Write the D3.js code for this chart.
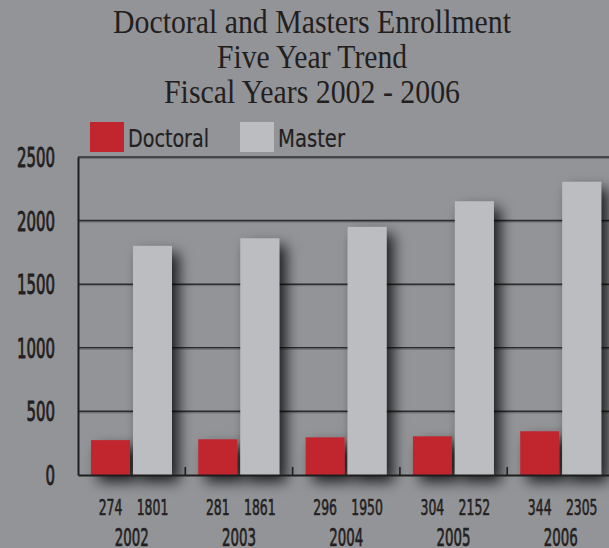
<!DOCTYPE html>
<html><head><meta charset="utf-8">
<script src="https://cdn.jsdelivr.net/npm/d3@7"></script>
<style>html,body{margin:0;padding:0;background:#939498;overflow:hidden}</style>
</head><body>
<svg id="c" width="609" height="548"></svg>
<script>
const years = ["2002","2003","2004","2005","2006"];
const seriesNames = ["Doctoral","Master"];
const doctoral = [274,281,296,304,344];
const master = [1801,1861,1950,2152,2305];
const yTicks = [0,500,1000,1500,2000,2500];
const titleLines = ["Doctoral and Masters Enrollment","Five Year Trend","Fiscal Years 2002 - 2006"];

const colors = {Doctoral:"#c1262e", Master:"#bcbdc1"};
const ink = "#231f20";
const condensed = "'Liberation Sans Narrow','DejaVu Sans Condensed','Arial Narrow',sans-serif";

const svg = d3.select("#c");
svg.append("rect").attr("width",609).attr("height",548).attr("fill","#939498");

const defs = svg.append("defs");
const f = defs.append("filter").attr("id","sh").attr("x","-50%").attr("y","-20%").attr("width","200%").attr("height","150%");
f.append("feDropShadow").attr("dx",7).attr("dy",7).attr("stdDeviation",7).attr("flood-color","#000").attr("flood-opacity",0.8);

// title
const titleX = [[113,511],[217,407],[164,460]];
const titleY = [33,68,103];
titleLines.forEach((t,i)=>{
  svg.append("text").attr("x",titleX[i][0]).attr("y",titleY[i])
    .attr("textLength",titleX[i][1]-titleX[i][0]).attr("lengthAdjust","spacingAndGlyphs")
    .attr("font-family","'Liberation Serif','DejaVu Serif',serif").attr("font-size",34)
    .attr("fill",ink).text(t);
});

const y = d3.scaleLinear().domain([0,2500]).range([475,157]);
const x = d3.scaleBand().domain(years).range([78,614.5]).padding(0);
const xi = d3.scaleBand().domain(seriesNames).range([13,94]).paddingInner(3/42).paddingOuter(0);

// condensed text helper
function ctext(g, str, cx, by, size, perChar, anchor, sw){
  const w = perChar*str.length;
  const x0 = anchor==="end" ? cx - w : (anchor==="start" ? cx : cx - w/2);
  g.append("text").attr("x",x0).attr("y",by).attr("font-family",condensed)
   .attr("font-size",size).attr("fill",ink)
   .attr("stroke",ink).attr("stroke-width",sw||0)
   .attr("textLength",w).attr("lengthAdjust","spacingAndGlyphs").text(str);
}

// legend
const legX = [90,240];
seriesNames.forEach((s,i)=>{
  svg.append("rect").attr("x",legX[i]).attr("y",122).attr("width",34).attr("height",30).attr("fill",colors[s]);
});
ctext(svg,"Doctoral",128,147,24,81/8,"start",0.2);
ctext(svg,"Master",278,147,24,67/6,"start",0.2);

// gridlines
const grid = svg.append("g");
yTicks.filter(v=>v>0).forEach(v=>{
  grid.append("line").attr("x1",78).attr("x2",614).attr("y1",y(v)).attr("y2",y(v))
    .attr("stroke","#2b2b2d").attr("stroke-width",1.6);
  grid.append("line").attr("x1",78).attr("x2",614).attr("y1",y(v)+1.5).attr("y2",y(v)+1.5)
    .attr("stroke","#6a6b6e").attr("stroke-width",0.8);
});

// bars
const data = years.map((yr,i)=>({year:yr, Doctoral:doctoral[i], Master:master[i]}));
const bars = svg.append("g").attr("filter","url(#sh)");
data.forEach(d=>{
  seriesNames.forEach(s=>{
    bars.append("rect").attr("x",x(d.year)+xi(s)).attr("width",xi.bandwidth())
      .attr("y",y(d[s])).attr("height",y(0)-y(d[s])).attr("fill",colors[s]);
  });
});

// axes
const yAxis = svg.append("g").attr("transform","translate(78,0)")
  .call(d3.axisLeft(y).tickValues(yTicks).tickSize(0).tickFormat(""));
yAxis.select(".domain").attr("stroke","#1e1e1e").attr("stroke-width",2);
yTicks.forEach(v=>ctext(svg,String(v),55,y(v)+10,27,9.5,"end",0.9));

const xAxis = svg.append("g").attr("transform",`translate(0,${y(0)})`)
  .call(d3.axisBottom(x).tickSize(0).tickFormat(""));
xAxis.select(".domain").attr("stroke","#1e1e1e").attr("stroke-width",2);
years.slice(1).forEach(yr=>{
  svg.append("line").attr("x1",x(yr)).attr("x2",x(yr)).attr("y1",y(0)).attr("y2",y(0)-8)
    .attr("stroke","#1e1e1e").attr("stroke-width",1.6);
});

// value labels and year labels
data.forEach(d=>{
  seriesNames.forEach(s=>{
    ctext(svg,String(d[s]),x(d.year)+xi(s)+xi.bandwidth()/2,515,21,7.9,"middle",0.6);
  });
  ctext(svg,d.year,x(d.year)+x.bandwidth()/2,546,25,8.5,"middle",0.7);
});
</script>
</body></html>
